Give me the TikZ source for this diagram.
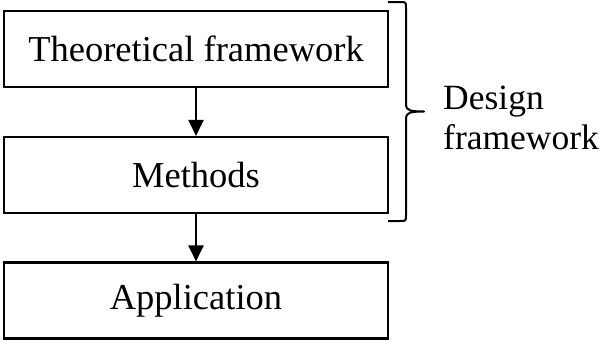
\documentclass[tikz,border=0pt]{standalone}
\usepackage{fontspec}
\setmainfont{Liberation Serif}
\usetikzlibrary{arrows.meta}

\begin{document}
\begin{tikzpicture}[x=1pt,y=-1pt,>={Triangle[length=16pt,width=15pt]},
		stage/.style={draw,line width=2.1pt,minimum width=384pt,minimum height=76pt,inner sep=0pt,font=\fontsize{36.5}{40}\selectfont},
		flow/.style={->,line width=2pt}]
			\useasboundingbox (0,0) rectangle (604,340);
			\def\cx{196}
			\def\bx{406}
			
			\coordinate (braceTop) at (388,2);
			\coordinate (braceTip) at (424,111.5);
			\coordinate (braceBot) at (388,221);
			
			\node[stage] (theory) at (\cx,49) {Theoretical framework};
			\node[stage] (methods) at (\cx,175) {Methods};
			\node[stage] (application) at (\cx,300.5) {Application};
			
			\draw[flow] (theory) -- (methods);
			\draw[flow] (methods) -- (application);
			
			% brace
			\draw[line width=2pt,line join=round] (braceTop) -- (400,2) .. controls (\bx,2) .. (\bx,8)
				-- (\bx,105) .. controls (\bx,110) and (410,111.5) .. (braceTip)
				.. controls (410,111.5) and (\bx,113) .. (\bx,118) -- (\bx,215)
				.. controls (\bx,221) .. (400,221) -- (braceBot);
			
			\node[anchor=west,align=left,inner sep=0pt,font=\fontsize{35.5}{40}\selectfont] (design) at (443,118) {Design\\framework};
		\end{tikzpicture}
\end{document}
